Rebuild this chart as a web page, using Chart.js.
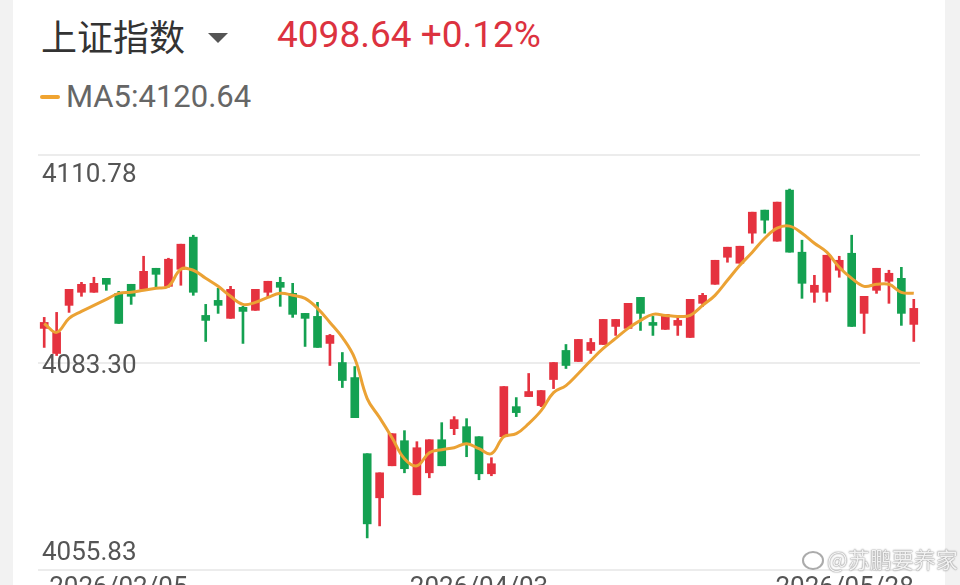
<!DOCTYPE html>
<html>
<head>
<meta charset="utf-8">
<script src="https://cdn.jsdelivr.net/npm/chart.js@4.4.1/dist/chart.umd.min.js"></script>
<style>
  body { margin: 0; width: 960px; height: 585px; overflow: hidden; background: #f2f2f2; font-family: Roboto, "Noto Sans CJK SC", sans-serif; }
  #card { position: absolute; left: 13px; top: 0; width: 932px; height: 585px; background: #fff; }
  #title { position: absolute; left: 41px; top: 15px; font: 36px/40px "Noto Sans CJK SC", sans-serif; color: #333; }
  #arrow { position: absolute; left: 208px; top: 33px; width: 0; height: 0; border-left: 10px solid transparent; border-right: 10px solid transparent; border-top: 10px solid #555; }
  #price { position: absolute; left: 277px; top: 15px; font: 37px/40px Roboto, sans-serif; color: #dc323f; }
  #maDash { position: absolute; left: 40px; top: 95px; width: 20px; height: 4px; border-radius: 2px; background: #f0a431; }
  #maText { position: absolute; left: 66px; top: 80px; font: 31px/34px Roboto, sans-serif; color: #666; }
  #chart { position: absolute; left: 0; top: 140px; }
  #mark { position: absolute; left: 802px; top: 544px; font: 22px/28px "Noto Sans CJK SC", sans-serif; color: rgba(255,255,255,0.9);
          text-shadow: 0 0 1px #777, 0 0 2px #999; white-space: nowrap; }
  #mark span { display: inline-block; width: 18px; height: 15px; border: 2px solid rgba(150,150,150,0.8); border-radius: 50%; margin-right: 3px; vertical-align: -2px; }
</style>
</head>
<body>
<div id="card"></div>
<div id="title">上证指数</div>
<div id="arrow"></div>
<div id="price">4098.64 +0.12%</div>
<div id="maDash"></div>
<div id="maText">MA5:4120.64</div>
<canvas id="chart" width="960" height="445"></canvas>
<div id="mark"><span></span>@苏鹏要养家</div>
<script>
// daily candles
var open = [4087.82, 4084.50, 4090.87, 4092.60, 4092.60, 4094.45, 4092.46, 4093.66, 4092.99, 4095.78,
            4093.39, 4095.65, 4099.90, 4089.54, 4091.53, 4089.15, 4090.61, 4090.21, 4092.60, 4093.92,
            4092.46, 4089.81, 4089.41, 4085.83, 4083.30, 4081.31, 4071.23, 4065.39, 4069.63, 4072.95,
            4065.79, 4068.70, 4073.08, 4074.54, 4074.81, 4073.48, 4068.57, 4073.48, 4077.46, 4078.79,
            4077.60, 4081.05, 4084.90, 4083.44, 4084.90, 4085.69, 4088.08, 4087.82, 4091.93, 4088.61,
            4087.69, 4088.22, 4086.62, 4091.14, 4093.66, 4097.24, 4096.45, 4100.43, 4103.48, 4099.37,
            4106.13, 4097.91, 4092.60, 4092.60, 4095.52, 4097.77, 4089.81, 4092.86, 4094.06, 4094.45,
            4088.35];
var close = [4088.61, 4087.29, 4092.99, 4093.66, 4093.79, 4093.66, 4088.48, 4092.07, 4095.38, 4094.98,
             4096.98, 4098.97, 4092.60, 4088.88, 4090.87, 4092.99, 4090.07, 4092.99, 4094.06, 4093.26,
             4089.68, 4089.15, 4085.30, 4086.89, 4080.92, 4076.00, 4061.94, 4068.70, 4073.88, 4069.24,
             4072.02, 4073.08, 4069.63, 4075.74, 4072.69, 4068.57, 4069.90, 4080.12, 4076.67, 4079.46,
             4079.59, 4083.30, 4082.91, 4086.36, 4085.96, 4089.01, 4089.01, 4091.14, 4089.81, 4088.22,
             4089.68, 4088.88, 4091.67, 4092.20, 4096.84, 4098.57, 4098.70, 4103.21, 4102.15, 4104.54,
             4097.91, 4093.79, 4093.53, 4097.51, 4096.84, 4088.08, 4092.07, 4095.78, 4095.12, 4089.81,
             4090.47];
var high = [4089.28, 4089.94, 4092.99, 4093.92, 4094.59, 4094.45, 4092.73, 4093.66, 4097.37, 4095.78,
            4097.11, 4098.97, 4100.16, 4091.00, 4093.13, 4093.39, 4090.74, 4092.99, 4094.06, 4094.59,
            4093.79, 4089.81, 4091.27, 4087.02, 4084.63, 4082.77, 4071.23, 4068.70, 4073.88, 4074.28,
            4072.82, 4073.08, 4075.34, 4076.14, 4075.87, 4073.48, 4070.70, 4080.12, 4078.66, 4081.85,
            4079.59, 4083.30, 4085.69, 4086.36, 4086.49, 4089.01, 4089.01, 4091.14, 4091.93, 4089.41,
            4089.68, 4089.54, 4091.67, 4092.46, 4096.84, 4098.57, 4098.70, 4103.21, 4103.48, 4104.54,
            4106.27, 4099.50, 4094.85, 4097.51, 4097.37, 4100.16, 4092.07, 4095.78, 4095.52, 4095.91,
            4091.67];
var low = [4085.30, 4084.23, 4089.94, 4092.07, 4092.60, 4092.86, 4088.48, 4091.00, 4092.99, 4093.26,
           4093.26, 4093.53, 4092.20, 4086.09, 4089.81, 4089.15, 4085.83, 4090.21, 4091.93, 4090.74,
           4089.28, 4085.43, 4085.30, 4082.91, 4079.99, 4076.00, 4060.08, 4061.67, 4069.63, 4068.70,
           4065.79, 4068.04, 4069.63, 4073.75, 4070.83, 4067.78, 4068.31, 4073.48, 4076.14, 4078.79,
           4077.46, 4079.85, 4082.51, 4083.44, 4084.50, 4085.69, 4086.89, 4087.82, 4087.55, 4086.89,
           4087.69, 4086.89, 4086.62, 4090.74, 4093.66, 4096.58, 4096.45, 4099.10, 4100.43, 4099.37,
           4097.91, 4091.80, 4091.27, 4091.40, 4094.59, 4088.08, 4087.15, 4092.46, 4091.14, 4088.22,
           4086.09];
var ma5 = [4088.48, 4087.29, 4089.15, 4090.07, 4090.87, 4091.67, 4092.46, 4092.60, 4092.86, 4093.13,
           4093.39, 4095.65, 4095.52, 4094.45, 4093.39, 4092.07, 4091.00, 4091.27, 4091.93, 4092.46,
           4092.20, 4091.80, 4090.47, 4088.61, 4086.62, 4083.84, 4078.53, 4076.00, 4073.35, 4070.56,
           4069.63, 4071.36, 4071.76, 4072.02, 4072.55, 4071.89, 4071.23, 4073.48, 4073.88, 4075.21,
           4076.93, 4079.32, 4080.25, 4081.85, 4083.57, 4085.16, 4086.49, 4087.82, 4088.88, 4089.68,
           4089.54, 4089.41, 4089.54, 4090.87, 4092.20, 4094.19, 4096.18, 4097.91, 4099.76, 4101.09,
           4101.36, 4100.43, 4099.10, 4097.91, 4095.91, 4094.45, 4093.39, 4093.66, 4093.66, 4092.60,
           4092.46];

var yTicks = [4110.78, 4083.30, 4055.83];
var dateLabels = ['2026/02/05', '2026/04/03', '2026/05/28'];
var dateIndex = [0, 35, 70];

var UP = '#e5323f', DOWN = '#14a151';
var colors = open.map(function(o, i){ return close[i] >= o ? UP : DOWN; });

var axisText = {
    id: 'axisText',
    beforeDatasetsDraw: function(chart){
        var ctx = chart.ctx, y = chart.scales.y, area = chart.chartArea;
        ctx.save();
        ctx.strokeStyle = '#ececec';
        ctx.lineWidth = 2;
        yTicks.forEach(function(v){
            var py = Math.round(y.getPixelForValue(v));
            ctx.beginPath();
            ctx.moveTo(area.left, py);
            ctx.lineTo(area.right, py);
            ctx.stroke();
        });
        ctx.restore();
    },
    afterDraw: function(chart){
        var ctx = chart.ctx, y = chart.scales.y, x = chart.scales.x;
        ctx.save();
        ctx.font = '26px Roboto';
        ctx.fillStyle = '#555';
        ctx.textAlign = 'left';
        var shift = [27, 10, -10];
        yTicks.forEach(function(v, i){
            ctx.fillText(v.toFixed(2), chart.chartArea.left + 4, y.getPixelForValue(v) + shift[i]);
        });
        var align = ['left', 'center', 'right'];
        dateLabels.forEach(function(t, i){
            ctx.textAlign = align[i];
            var px = x.getPixelForValue(dateIndex[i]);
            if(i === 0) px += 5;
            ctx.fillText(t, px, chart.chartArea.bottom + 25);
        });
        ctx.restore();
    }
};

new Chart(document.getElementById('chart'), {
    type: 'bar',
    data: {
        labels: open.map(function(o, i){ return i; }),
        datasets: [
            {
                type: 'line',
                data: ma5,
                borderColor: '#eba234',
                borderWidth: 3,
                tension: 0.4,
                pointRadius: 0,
                order: 0
            },
            {
                data: open.map(function(o, i){ return [o, close[i]]; }),
                backgroundColor: colors,
                barThickness: 8,
                grouped: false,
                order: 1
            },
            {
                data: low.map(function(l, i){ return [l, high[i]]; }),
                backgroundColor: colors,
                barThickness: 2,
                grouped: false,
                order: 2
            }
        ]
    },
    plugins: [axisText],
    options: {
        responsive: false,
        animation: false,
        devicePixelRatio: 1,
        layout: { padding: { left: 38, right: 40, top: 15, bottom: 15 } },
        plugins: { legend: { display: false }, tooltip: { enabled: false } },
        scales: {
            x: { display: false, offset: true },
            y: { display: false, min: yTicks[2], max: yTicks[0] }
        }
    }
});
</script>
</body>
</html>
